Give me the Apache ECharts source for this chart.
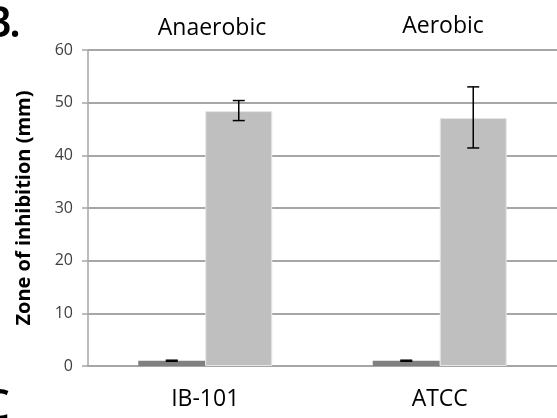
<!DOCTYPE html>
<html>
<head>
<meta charset="utf-8">
<style>
  html, body { margin: 0; padding: 0; background: #fff; }
  #chart { width: 557px; height: 418px; }
</style>
<script src="https://cdn.jsdelivr.net/npm/echarts@6/dist/echarts.min.js"></script>
</head>
<body>
<div id="chart"></div>
<script>
// Zone of inhibition per strain, two treatments per strain
const categories = ['IB-101', 'ATCC'];
const groupTitles = ['Anaerobic', 'Aerobic'];
const controlValues = [1.0, 1.0];
const controlErr = [0.1, 0.1];
const treatedValues = [48.4, 47.1];
const treatedErrLow = [46.6, 41.4];
const treatedErrHigh = [50.4, 53.0];
const yTicks = [0, 10, 20, 30, 40, 50, 60];

const FONT = '"Open Sans", "Noto Sans", sans-serif';

const chart = echarts.init(document.getElementById('chart'), null, { renderer: 'canvas' });

function errorBarSeries(lows, highs, barIndex) {
  return {
    type: 'custom',
    z: 10,
    data: categories.map((c, i) => [i, lows[i], highs[i]]),
    renderItem: function (params, api) {
      const idx = api.value(0);
      const lo = api.coord([idx, api.value(1)]);
      const hi = api.coord([idx, api.value(2)]);
      const bandW = api.size([1, 0])[0];
      // two bars per category, each occupying a fixed share of the band
      const barW = bandW * 0.2857;
      const x = lo[0] + (barIndex === 0 ? -barW / 2 : barW / 2);
      const cap = 6;
      const style = { stroke: '#000', lineWidth: 1.5, fill: null };
      return {
        type: 'group',
        children: [
          { type: 'line', shape: { x1: x, y1: hi[1], x2: x, y2: lo[1] }, style },
          { type: 'line', shape: { x1: x - cap, y1: hi[1], x2: x + cap, y2: hi[1] }, style },
          { type: 'line', shape: { x1: x - cap, y1: lo[1], x2: x + cap, y2: lo[1] }, style }
        ]
      };
    }
  };
}

const option = {
  animation: false,
  backgroundColor: '#fff',
  grid: { left: 88, right: -7, top: 50, bottom: 52, containLabel: false },
  graphic: [
    { type: 'text', x: 12, y: 2, style: { text: 'B', font: '600 44px ' + FONT, fill: '#000', align: 'right', verticalAlign: 'top' } },
    { type: 'text', x: 15, y: 2, style: { text: '.', font: '600 44px ' + FONT, fill: '#000', align: 'center', verticalAlign: 'top' } },
    { type: 'text', x: 10, y: 385, style: { text: 'C', font: '600 44px ' + FONT, fill: '#000', align: 'right', verticalAlign: 'top' } },
    { type: 'text', x: 212, y: 28, style: { text: groupTitles[0], font: '23px ' + FONT, fill: '#000', align: 'center', verticalAlign: 'middle' } },
    { type: 'text', x: 443, y: 26, style: { text: groupTitles[1], font: '23px ' + FONT, fill: '#000', align: 'center', verticalAlign: 'middle' } }
  ],
  xAxis: {
    type: 'category',
    data: categories,
    axisLine: { show: true, lineStyle: { color: '#a6a6a6', width: 2 } },
    axisTick: { show: false },
    axisLabel: { color: '#000', fontSize: 23, fontFamily: FONT, margin: 22 }
  },
  yAxis: {
    type: 'value',
    min: yTicks[0],
    max: yTicks[yTicks.length - 1],
    interval: 10,
    name: 'Zone of inhibition (mm)',
    nameLocation: 'middle',
    nameGap: 54,
    nameTextStyle: { color: '#000', fontSize: 20, fontWeight: 'bold', fontFamily: FONT },
    axisLine: { show: true, lineStyle: { color: '#a6a6a6', width: 1.5 } },
    axisTick: { show: true, length: 6, lineStyle: { color: '#a6a6a6', width: 1.5 } },
    axisLabel: { color: '#404040', fontSize: 16, fontFamily: FONT, margin: 15 },
    splitLine: { show: true, lineStyle: { color: '#a6a6a6', width: 2 } }
  },
  series: [
    {
      type: 'bar',
      data: controlValues,
      barGap: '0%',
      barCategoryGap: '42.86%',
      itemStyle: { color: '#808080' }
    },
    {
      type: 'bar',
      data: treatedValues,
      itemStyle: { color: '#bfbfbf', borderColor: '#e6e6e6', borderWidth: 1 }
    },
    errorBarSeries(controlValues.map((v, i) => v - controlErr[i]), controlValues.map((v, i) => v + controlErr[i]), 0),
    errorBarSeries(treatedErrLow, treatedErrHigh, 1)
  ]
};

chart.setOption(option);
</script>
</body>
</html>
